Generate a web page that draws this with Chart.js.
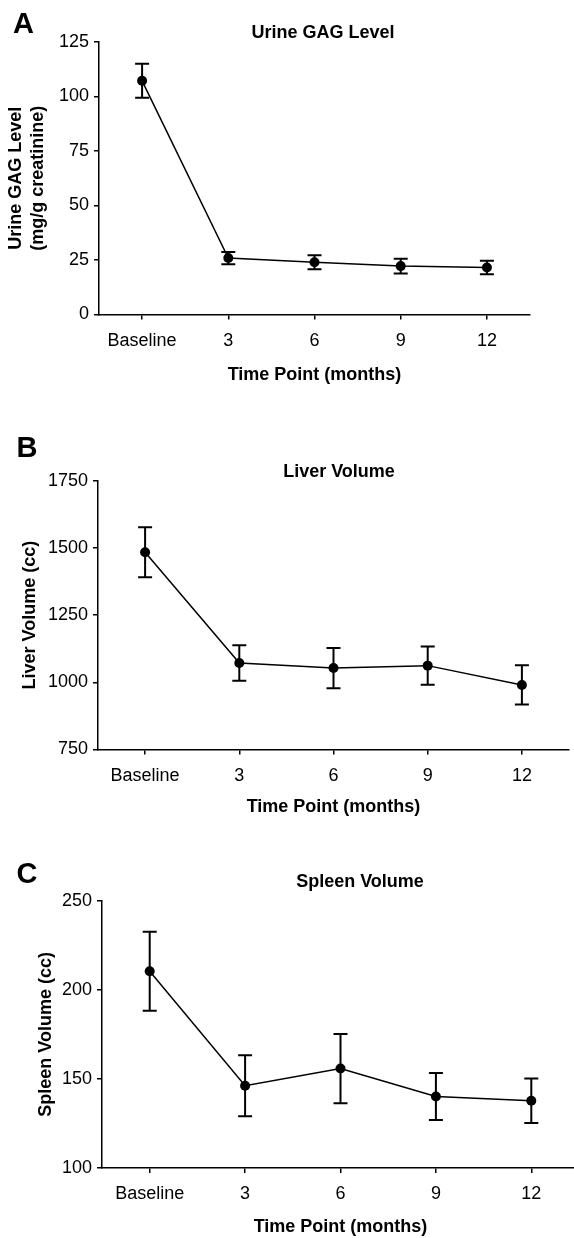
<!DOCTYPE html>
<html>
<head>
<meta charset="utf-8">
<script src="https://cdn.jsdelivr.net/npm/chart.js@4.4.0/dist/chart.umd.min.js"></script>
<style>
html, body { margin: 0; padding: 0; background: #fff; overflow: hidden; }
#wrap { position: relative; width: 574px; height: 1238px; overflow: hidden; }
canvas { position: absolute; left: 0; }
</style>
</head>
<body>
<div id="wrap">
<canvas id="panelA" width="574" height="386" style="top:0px"></canvas>
<canvas id="panelB" width="574" height="428" style="top:390px"></canvas>
<canvas id="panelC" width="584" height="408" style="top:830px"></canvas>
</div>
<script>
// x categories, shared by all three panels
const timeLabels = ['Baseline', '3', '6', '9', '12'];

// A: urine GAG (mg/g creatinine), mean and error
const gagMean = [107.2, 25.9, 24.0, 22.2, 21.6];
const gagErr = [7.8, 2.8, 3.2, 3.4, 3.1];

// B: liver volume (cc)
const liverMean = [1484, 1072, 1053, 1062, 990];
const liverErr = [93, 66, 75, 71, 73];

// C: spleen volume (cc)
const spleenMean = [210.4, 146.2, 155.8, 140.1, 137.7];
const spleenErr = [22.2, 17.1, 19.4, 13.2, 12.5];

const FONT = '"Liberation Sans", Arial, Helvetica, sans-serif';

const errorBars = {
    id: 'errorBars',
    beforeDatasetsDraw(chart, args, o) {
        const ctx = chart.ctx;
        const xs = chart.scales.x, ys = chart.scales.y;
        ctx.save();
        ctx.strokeStyle = '#000';
        ctx.lineWidth = 2;
        chart.data.datasets.forEach(ds => {
            ds.data.forEach((v, i) => {
                const e = ds.errors[i];
                const x = xs.getPixelForValue(i);
                const y1 = ys.getPixelForValue(v + e);
                const y2 = ys.getPixelForValue(v - e);
                ctx.beginPath();
                ctx.moveTo(x, y1); ctx.lineTo(x, y2);
                ctx.moveTo(x - o.cap, y1); ctx.lineTo(x + o.cap, y1);
                ctx.moveTo(x - o.cap, y2); ctx.lineTo(x + o.cap, y2);
                ctx.stroke();
            });
        });
        ctx.restore();
    }
};

const panelText = {
    id: 'panelText',
    afterDraw(chart, args, o) {
        const ctx = chart.ctx;
        ctx.save();
        ctx.fillStyle = '#000';
        ctx.textBaseline = 'alphabetic';
        ctx.textAlign = 'left';
        ctx.font = 'bold 29px ' + FONT;
        ctx.fillText(o.letter, o.letterX, o.letterY);
        ctx.textAlign = 'center';
        ctx.font = 'bold 18px ' + FONT;
        ctx.fillText(o.title, o.titleX, o.titleY);
        ctx.restore();
    }
};

function makePanel(id, p) {
    const canvas = document.getElementById(id);
    const W = canvas.width, H = canvas.height;
    return new Chart(canvas, {
        type: 'line',
        data: {
            labels: timeLabels,
            datasets: [{
                data: p.values,
                errors: p.errors,
                borderColor: '#000',
                borderWidth: 1.5,
                pointRadius: 5,
                pointBackgroundColor: '#000',
                pointBorderColor: '#000',
                pointBorderWidth: 0,
                tension: 0,
                fill: false
            }]
        },
        options: {
            responsive: false,
            animation: false,
            devicePixelRatio: 1,
            layout: { padding: { top: p.top, right: W - p.right, left: 0, bottom: 0 } },
            plugins: {
                legend: { display: false },
                tooltip: { enabled: false },
                errorBars: { cap: 7 },
                panelText: p.text
            },
            scales: {
                x: {
                    type: 'category',
                    offset: true,
                    border: { color: '#000', width: 1.5 },
                    grid: { drawOnChartArea: false, drawTicks: true, tickLength: 5, color: '#000', lineWidth: 1.5 },
                    ticks: { color: '#000', font: { family: FONT, size: 18 }, padding: 10.5, maxRotation: 0, autoSkip: false },
                    title: { display: true, text: 'Time Point (months)', color: '#000', font: { family: FONT, size: 18, weight: 'bold' }, padding: 0 },
                    afterFit: s => { s.height = H - p.bottom; }
                },
                y: {
                    min: p.min, max: p.max,
                    border: { color: '#000', width: 1.5 },
                    grid: { drawOnChartArea: false, drawTicks: true, tickLength: 5, color: '#000', lineWidth: 1.5 },
                    ticks: { stepSize: p.step, color: '#000', font: { family: FONT, size: 18 }, padding: 5, callback: v => String(v) },
                    title: { display: true, text: p.yTitle, color: '#000', font: { family: FONT, size: 18, weight: 'bold' }, padding: { top: p.yPad, bottom: 0 } },
                    afterFit: s => { s.width = p.left; }
                }
            }
        },
        plugins: [errorBars, panelText]
    });
}

makePanel('panelA', {
    values: gagMean, errors: gagErr, min: 0, max: 125, step: 25,
    yTitle: ['Urine GAG Level', '(mg/g creatinine)'], yPad: 5.7,
    left: 99, right: 530, top: 42, bottom: 314.5,
    text: { letter: 'A', letterX: 13, letterY: 33, title: 'Urine GAG Level', titleX: 323, titleY: 38 }
});

makePanel('panelB', {
    values: liverMean, errors: liverErr, min: 750, max: 1750, step: 250,
    yTitle: 'Liver Volume (cc)', yPad: 19,
    left: 98, right: 574, top: 90.7, bottom: 359.5,
    text: { letter: 'B', letterX: 16.5, letterY: 67, title: 'Liver Volume', titleX: 339, titleY: 86.7 }
});

makePanel('panelC', {
    values: spleenMean, errors: spleenErr, min: 100, max: 250, step: 50,
    yTitle: 'Spleen Volume (cc)', yPad: 35,
    left: 102, right: 579, top: 70.7, bottom: 338,
    text: { letter: 'C', letterX: 16.5, letterY: 53, title: 'Spleen Volume', titleX: 360, titleY: 57 }
});
</script>
</body>
</html>
